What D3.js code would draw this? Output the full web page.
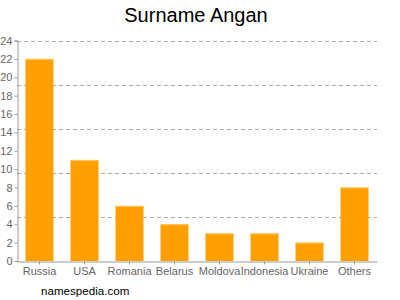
<!DOCTYPE html>
<html><head><meta charset="utf-8">
<script src="https://cdn.jsdelivr.net/npm/d3@7"></script>
<style>body{margin:0;background:#fff}svg{display:block}</style>
</head><body>
<svg id="c" width="400" height="300"></svg>
<script>
const categories = ["Russia","USA","Romania","Belarus","Moldova","Indonesia","Ukraine","Others"];
const values = [22, 11, 6, 4, 3, 3, 2, 8];
const yTicks = [0,2,4,6,8,10,12,14,16,18,20,22,24];
const gridValues = [4.8, 9.6, 14.4, 19.2, 24];
const title = "Surname Angan";
const footer = "namespedia.com";

const svg = d3.select("#c");
const x = d3.scaleBand().domain(categories).range([17, 377]).paddingInner(0.378).paddingOuter(0.189);
const y = d3.scaleLinear().domain([0, 24]).range([261, 40.5]);

svg.append("text").attr("x", 196).attr("y", 22).attr("text-anchor", "middle")
  .attr("font-family", "Liberation Sans, Arial, sans-serif").attr("font-size", 20).attr("fill", "#000").text(title);

svg.append("g").selectAll("line").data(gridValues).join("line")
  .attr("x1", 17).attr("x2", 377)
  .attr("y1", d => Math.round(y(d)) + 0.5).attr("y2", d => Math.round(y(d)) + 0.5)
  .attr("stroke", "#aaa").attr("stroke-dasharray", "4,3").attr("stroke-width", 1);

svg.append("g").selectAll("rect").data(values).join("rect")
  .attr("x", (d, i) => x(categories[i])).attr("width", x.bandwidth())
  .attr("y", d => y(d)).attr("height", d => y(0) - y(d))
  .attr("fill", "#FFA000");
svg.append("g").selectAll("line").data(values).join("line")
  .attr("x1", (d, i) => x(categories[i])).attr("x2", (d, i) => x(categories[i]) + x.bandwidth())
  .attr("y1", d => y(d) + 0.5).attr("y2", d => y(d) + 0.5)
  .attr("stroke", "#FFC860").attr("stroke-width", 1);

const yAxis = svg.append("g").attr("transform", "translate(17.5,0)")
  .call(d3.axisLeft(y).tickValues(yTicks).tickSize(3).tickPadding(2));
yAxis.select(".domain").attr("stroke", "#999");
yAxis.selectAll(".tick line").attr("stroke", "#999");
yAxis.selectAll("text").attr("fill", "#666").attr("font-size", 11).attr("font-family", "Liberation Sans, Arial, sans-serif");

const xAxis = svg.append("g").attr("transform", "translate(0,261.5)")
  .call(d3.axisBottom(x).tickSize(3).tickSizeOuter(0).tickPadding(3));
xAxis.select(".domain").attr("stroke", "#999");
xAxis.selectAll(".tick line").attr("stroke", "#999");
xAxis.selectAll("text").attr("fill", "#666").attr("font-size", 11).attr("font-family", "Liberation Sans, Arial, sans-serif");

svg.append("text").attr("x", 41).attr("y", 295)
  .attr("font-family", "Liberation Sans, Arial, sans-serif").attr("font-size", 11.6).attr("fill", "#000").text(footer);
</script>
</body></html>
